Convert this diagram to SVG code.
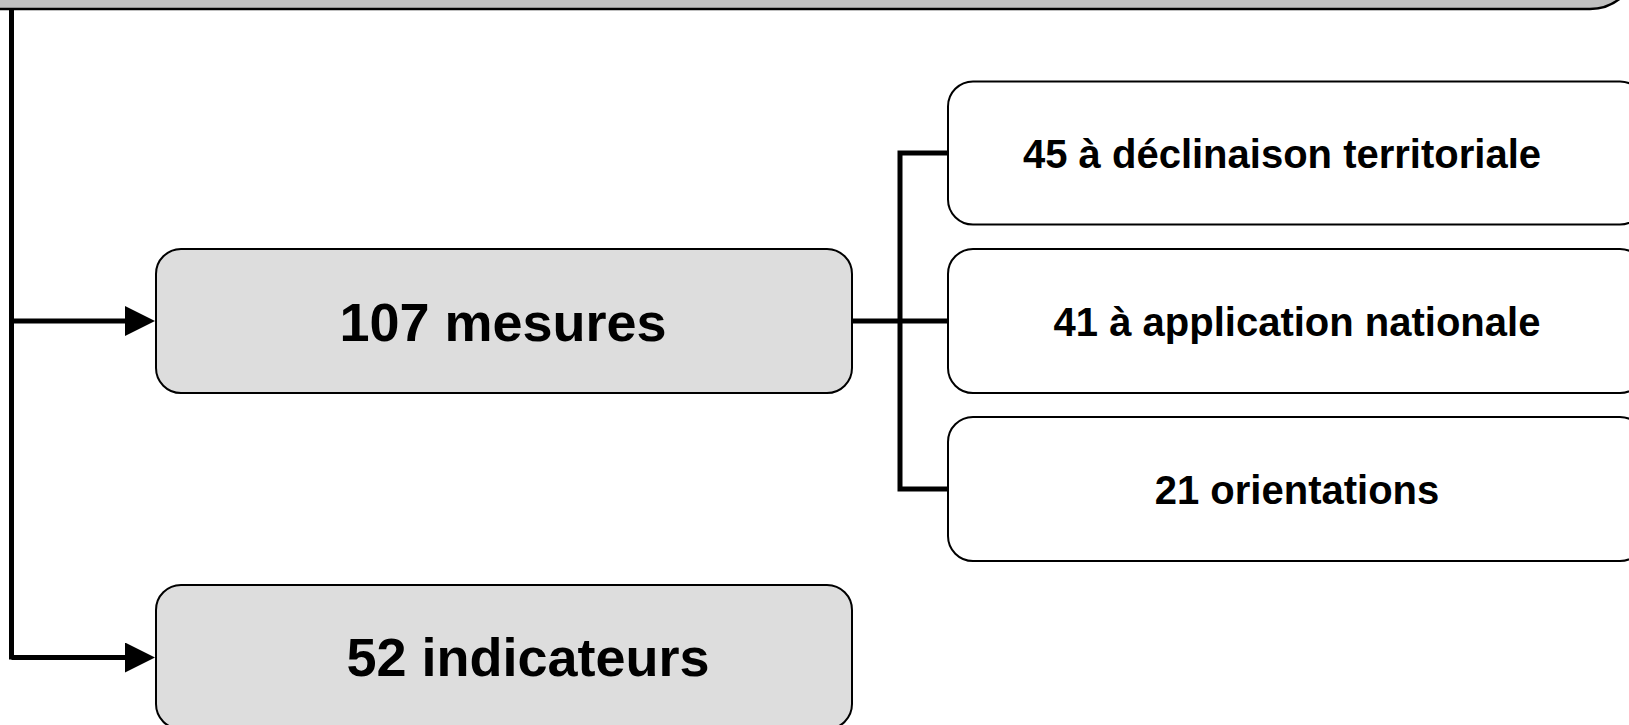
<svg xmlns="http://www.w3.org/2000/svg" width="1629" height="725" viewBox="0 0 1629 725">
<style>
.main{fill:#dddddd;stroke:#000;stroke-width:2}
.sub{fill:#ffffff;stroke:#000;stroke-width:2}
.big{font-family:"Liberation Sans",Arial,sans-serif;font-weight:bold;font-size:54px;fill:#000;text-anchor:middle}
.small{font-family:"Liberation Sans",Arial,sans-serif;font-weight:bold;font-size:40px;fill:#000;text-anchor:middle}
.conn{fill:none;stroke:#000;stroke-width:5}
</style>
<defs>
<marker id="arrow" markerUnits="userSpaceOnUse" markerWidth="30" markerHeight="30" refX="5" refY="15" orient="auto">
<path d="M0,0 L30,15 L0,30 Z" fill="#000"/>
</marker>
</defs>
<g id="top">
<rect x="-60" y="-120" width="1698" height="129" rx="48" ry="48" fill="#c0c0c0" stroke="#000" stroke-width="2.5"/>
</g>
<g id="connectors">
<path class="conn" d="M11.5,9 V659.5"/>
<path class="conn" d="M11.5,321 H130" marker-end="url(#arrow)"/>
<path class="conn" d="M11.5,657.5 H130" marker-end="url(#arrow)"/>
<path class="conn" d="M948,153 H900 V489 H948"/>
<path class="conn" d="M852,321 H948"/>
</g>
<g id="mesures">
<rect class="main" x="156" y="249" width="696" height="144" rx="25" ry="25"/>
<text class="big" x="503" y="341">107 mesures</text>
</g>
<g id="indicateurs">
<rect class="main" x="156" y="585" width="696" height="144" rx="25" ry="25"/>
<text class="big" x="528" y="676">52 indicateurs</text>
</g>
<g id="territoriale">
<rect class="sub" x="948" y="81.5" width="697" height="143" rx="25" ry="25"/>
<text class="small" x="1282" y="167.5">45 à déclinaison territoriale</text>
</g>
<g id="nationale">
<rect class="sub" x="948" y="249" width="697" height="144" rx="25" ry="25"/>
<text class="small" x="1297" y="335.5">41 à application nationale</text>
</g>
<g id="orientations">
<rect class="sub" x="948" y="417" width="697" height="144" rx="25" ry="25"/>
<text class="small" x="1297" y="503.5">21 orientations</text>
</g>
</svg>
